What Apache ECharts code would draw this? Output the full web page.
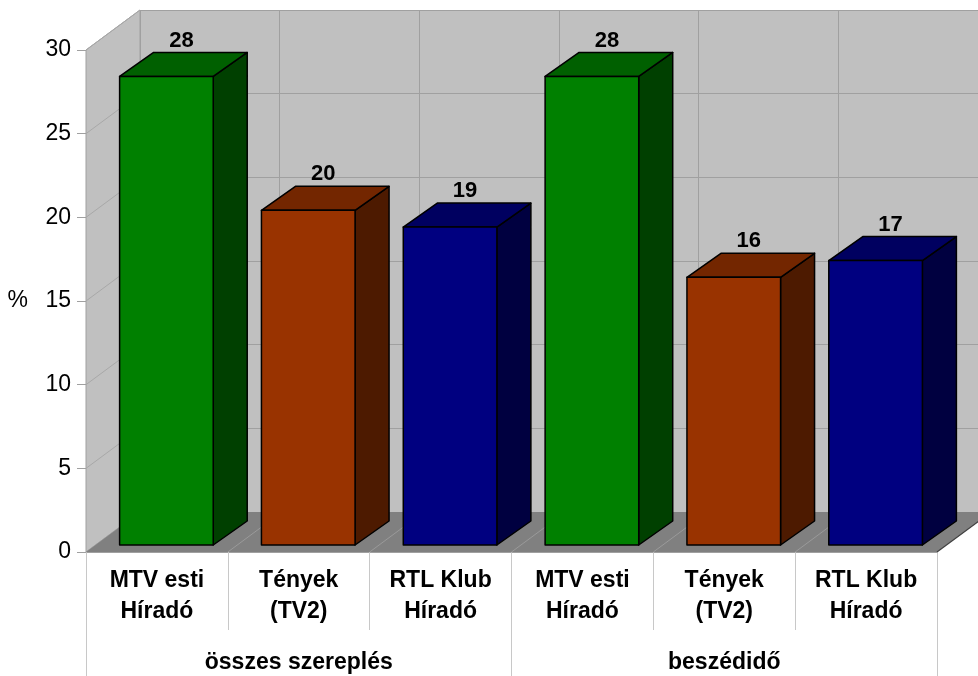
<!DOCTYPE html>
<html><head><meta charset="utf-8">
<script src="https://cdn.jsdelivr.net/npm/echarts@6/dist/echarts.min.js"></script>
<style>html,body{margin:0;padding:0;background:#fff}#c{width:978px;height:676px}</style>
</head><body><div id="c"></div>
<script>
// ---- data ----
const categories = ['MTV esti\nHíradó','Tények\n(TV2)','RTL Klub\nHíradó','MTV esti\nHíradó','Tények\n(TV2)','RTL Klub\nHíradó'];
const groups = ['összes szereplés','beszédidő'];
const values = [28, 20, 19, 28, 16, 17];
const yTicks = [0, 5, 10, 15, 20, 25, 30];

// ---- styles ----
const FRONT = ['#008000','#993300','#000080'];
const TOP = ['#006000','#732600','#000060'];
const SIDE = ['#004000','#4d1a00','#000040'];
const FONT = '"Liberation Sans", Arial, sans-serif';
const FS = 22;
const FS_AX = 23;
const WALL_DEPTH = [54, -40];
const BAR_DEPTH = [34, -24];
const BAR_RATIO = 0.66;

const chart = echarts.init(document.getElementById('c'), null, {renderer: 'canvas'});

function wallItem(params, api) {
  const cs = params.coordSys;
  const x = cs.x, y = cs.y, w = cs.width, h = cs.height;
  const dx = WALL_DEPTH[0], dy = WALL_DEPTH[1];
  const kids = [];
  kids.push({type: 'polygon', shape: {points: [[x, y], [x + dx, y + dy], [x + dx, y + h + dy], [x, y + h]]},
    style: {fill: '#c0c0c0', stroke: '#a0a0a0', lineWidth: 1}});
  yTicks.forEach(v => {
    const p = api.coord([0, v]);
    kids.push({type: 'line', shape: {x1: x, y1: p[1], x2: x + dx, y2: p[1] + dy},
      style: {stroke: '#a8a8a8', lineWidth: 1}});
  });
  kids.push({type: 'polygon', shape: {points: [[x, y + h], [x + dx, y + h + dy], [x + w + dx, y + h + dy], [x + w, y + h]]},
    style: {fill: '#808080'}});
  const bw = api.size([1, 0])[0];
  for (let i = 1; i < categories.length; i++) {
    const bx = api.coord([i, 0])[0] - bw / 2;
    kids.push({type: 'line', shape: {x1: bx, y1: y + h, x2: bx + dx, y2: y + h + dy},
      style: {stroke: '#9a9a9a', lineWidth: 1}});
  }
  kids.push({type: 'line', shape: {x1: x + w, y1: y + h, x2: x + w + dx, y2: y + h + dy},
    style: {stroke: '#404040', lineWidth: 1.2}});
  return {type: 'group', children: kids};
}

function barItem(params, api) {
  const i = api.value(0), v = api.value(1);
  const top = api.coord([i, v]);
  const base = api.coord([i, 0]);
  const bw = api.size([1, 0])[0] * BAR_RATIO;
  const x0 = top[0] - bw / 2, x1 = top[0] + bw / 2;
  const yT = top[1], yB = base[1];
  const dx = BAR_DEPTH[0], dy = BAR_DEPTH[1];
  const c = i % 3;
  const ls = {stroke: '#000', lineWidth: 1.5, lineJoin: 'round'};
  return {type: 'group', children: [
    {type: 'polygon', shape: {points: [[x1, yT], [x1 + dx, yT + dy], [x1 + dx, yB + dy], [x1, yB]]},
      style: Object.assign({fill: SIDE[c]}, ls)},
    {type: 'polygon', shape: {points: [[x0, yT], [x1, yT], [x1 + dx, yT + dy], [x0 + dx, yT + dy]]},
      style: Object.assign({fill: TOP[c]}, ls)},
    {type: 'rect', shape: {x: x0, y: yT, width: bw, height: yB - yT},
      style: Object.assign({fill: FRONT[c]}, ls)},
    {type: 'text', style: {text: String(v), x: top[0] + dx / 2 - 2, y: yT + dy - 1,
      align: 'center', verticalAlign: 'bottom', fontSize: FS, fontWeight: 'bold',
      fontFamily: FONT, fill: '#000'}}
  ]};
}

chart.setOption({
  animation: false,
  backgroundColor: '#fff',
  textStyle: {fontFamily: FONT},
  grid: [
    {left: 86, top: 50, width: 851, height: 502},
    {left: 95.5, top: 43, width: 851, height: 502},
    {left: 140, top: 10, width: 851, height: 502, show: true, backgroundColor: '#c0c0c0', borderWidth: 0}
  ],
  xAxis: [
    {gridIndex: 0, type: 'category', data: categories,
      axisLine: {show: true, lineStyle: {color: '#a0a0a0', width: 1}},
      axisTick: {show: true, length: 78, lineStyle: {color: '#c8c8c8'}},
      axisLabel: {interval: 0, fontSize: FS_AX, fontWeight: 'bold', color: '#000', lineHeight: 31, margin: 13, fontFamily: FONT},
      splitLine: {show: false}},
    {gridIndex: 0, type: 'category', data: groups, position: 'bottom',
      axisLine: {show: false},
      axisTick: {show: true, length: 124, lineStyle: {color: '#c8c8c8'}},
      axisLabel: {interval: 0, fontSize: FS_AX, fontWeight: 'bold', color: '#000', margin: 99, fontFamily: FONT},
      splitLine: {show: false}},
    {gridIndex: 1, type: 'category', data: categories, show: false},
    {gridIndex: 2, type: 'category', data: categories,
      axisLine: {show: false}, axisTick: {show: false}, axisLabel: {show: false},
      splitLine: {show: true, interval: 0, lineStyle: {color: '#a0a0a0', width: 1}}}
  ],
  yAxis: [
    {gridIndex: 0, type: 'value', min: 0, max: 30, interval: 5,
      name: '%', nameLocation: 'middle', nameRotate: 0, nameGap: 58,
      nameTextStyle: {fontSize: FS_AX, color: '#000', fontFamily: FONT},
      axisLine: {show: true, lineStyle: {color: '#a0a0a0', width: 1}},
      axisTick: {show: true, length: 9, lineStyle: {color: '#a0a0a0'}},
      axisLabel: {fontSize: FS_AX, color: '#000', margin: 15, fontFamily: FONT},
      splitLine: {show: false}},
    {gridIndex: 1, type: 'value', min: 0, max: 30, interval: 5, show: false},
    {gridIndex: 2, type: 'value', min: 0, max: 30, interval: 5,
      axisLine: {show: false}, axisTick: {show: false}, axisLabel: {show: false},
      splitLine: {show: true, lineStyle: {color: '#a0a0a0', width: 1}}}
  ],
  series: [
    {type: 'custom', xAxisIndex: 0, yAxisIndex: 0, data: [[0, 0]], renderItem: wallItem, silent: true, z: 1, clip: false},
    {type: 'custom', xAxisIndex: 2, yAxisIndex: 1, data: values.map((v, i) => [i, v]), renderItem: barItem, z: 3, clip: false}
  ]
});
</script></body></html>
